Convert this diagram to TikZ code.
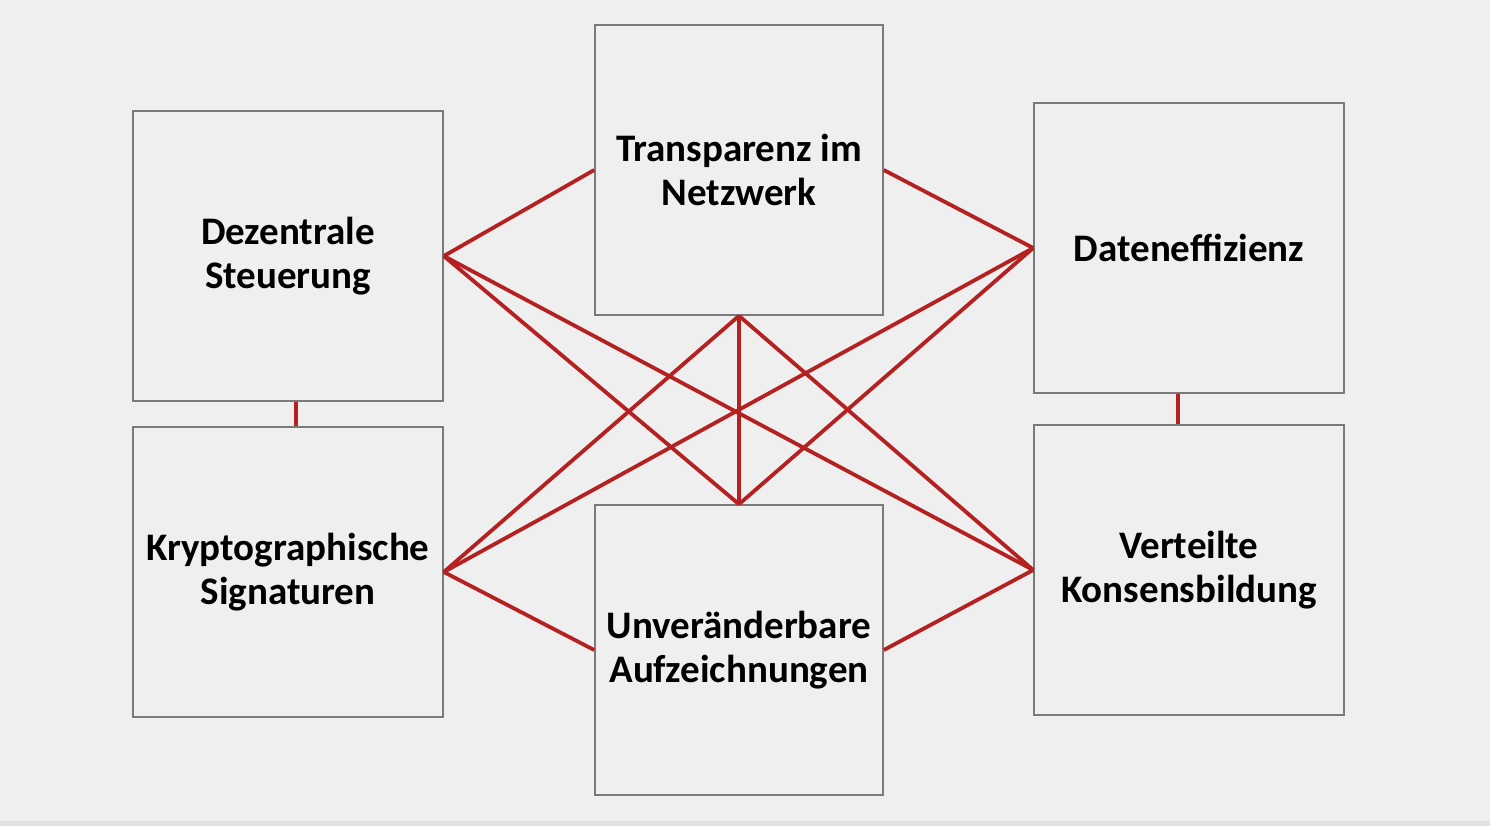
\documentclass[tikz,border=0pt]{standalone}
\usepackage{fontspec}
\setmainfont{Carlito}
\definecolor{bg}{HTML}{EFEFEF}
\definecolor{boxline}{HTML}{7A7A7A}
\definecolor{conn}{HTML}{B52020}
\begin{document}
\begin{tikzpicture}[x=0.5pt,y=-0.5pt,
  box/.style={draw=boxline,line width=0.8pt,rectangle,inner sep=0pt,
    minimum width=155pt,minimum height=145pt,align=center,
    font=\fontsize{19.5}{22}\selectfont\bfseries,text=black},
  narrow/.style={minimum width=144pt},
  link/.style={draw=conn,line width=1.9pt}]
\useasboundingbox (0,0) rectangle (1490,826);
\fill[bg] (0,0) rectangle (1490,826);
\fill[black!12] (0,821) rectangle (1490,826);
\node[box] (dez) at (288,256) {Dezentrale\\Steuerung};
\node[box,narrow] (tra) at (739,170) {Transparenz im\\Netzwerk};
\node[box] (dat) at (1189,248) {Dateneffizienz};
\node[box] (kry) at (288,572) {Kryptographische\\Signaturen};
\node[box,narrow] (unv) at (739,650) {Unveränderbare\\Aufzeichnungen};
\node[box] (ver) at (1189,570) {Verteilte\\Konsensbildung};
\draw[link] (dez.east) -- (tra.west);
\draw[link] (dez.east) -- (unv.north);
\draw[link] (dez.east) -- (ver.west);
\draw[link] (tra.east) -- (dat.west);
\draw[link] (tra.south) -- (kry.east);
\draw[link] (tra.south) -- (ver.west);
\draw[link] (tra.south) -- (unv.north);
\draw[link] (dat.west) -- (kry.east);
\draw[link] (dat.west) -- (unv.north);
\draw[link] (kry.east) -- (unv.west);
\draw[link] (unv.east) -- (ver.west);
\draw[link] (dez.south -| 296,0) -- (kry.north -| 296,0);
\draw[link] (dat.south -| 1178,0) -- (ver.north -| 1178,0);
\end{tikzpicture}
\end{document}
